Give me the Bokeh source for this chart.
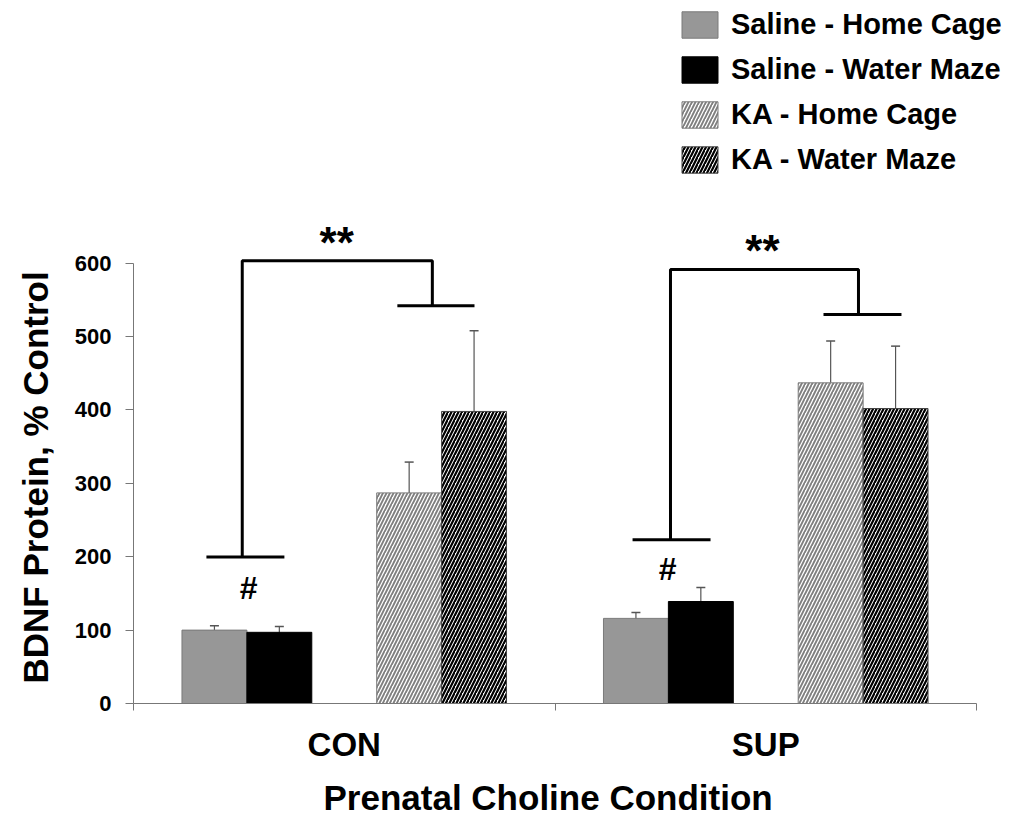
from bokeh.plotting import figure
from bokeh.models import (Range1d, FixedTicker, Legend, LegendItem, ColumnDataSource,
                          Whisker, TeeHead, Title)
from bokeh.core.properties import value
from bokeh.embed import file_html
from bokeh.resources import INLINE

# ---------------- data ----------------
conditions = ["CON", "SUP"]
series_names = ["Saline - Home Cage", "Saline - Water Maze", "KA - Home Cage", "KA - Water Maze"]
saline_home_cage = [100, 116]
saline_home_cage_sem = [6, 8]
saline_water_maze = [97, 139]
saline_water_maze_sem = [8, 19]
ka_home_cage = [287, 437]
ka_home_cage_sem = [42, 57]
ka_water_maze = [398, 402]
ka_water_maze_sem = [110, 85]
y_ticks = [0, 100, 200, 300, 400, 500, 600]

# significance annotations (data coordinates)
hash_x = [0.273, 1.267]
hash_y = [157, 183]
star_x = [0.482, 1.492]
star_y = [628, 618]
bracket_xs = [[0.258, 0.258, 0.709, 0.709], [1.274, 1.274, 1.720, 1.720]]
bracket_ys = [[199.6, 603.5, 603.5, 542], [223, 591.3, 591.3, 530]]
cap_x0 = [0.173, 0.626, 1.184, 1.637]
cap_x1 = [0.358, 0.809, 1.369, 1.822]
cap_y = [199.6, 542, 223, 530]

values = [saline_home_cage, saline_water_maze, ka_home_cage, ka_water_maze]
errors = [saline_home_cage_sem, saline_water_maze_sem, ka_home_cage_sem, ka_water_maze_sem]

FONT = "Liberation Sans"
centers = [i + 0.5 for i in range(len(conditions))]
offsets = [-2, -1, 1, 2]
bar_w = 0.154

styles = [
    dict(fill_color="#979797", line_color="#7a7a7a"),
    dict(fill_color="#000000", line_color="#000000"),
    dict(fill_color="white", line_color="#7a7a7a", hatch_pattern="/",
         hatch_color="#7f7f7f", hatch_scale=7, hatch_weight=1.9),
    dict(fill_color="white", line_color="#444444", hatch_pattern="/",
         hatch_color="#000000", hatch_scale=7, hatch_weight=2.2),
]

px_per_unit = 0.7338       # vertical pixels per data unit
px_per_cat = 421.5         # horizontal pixels per category
frame_h = 695
frame_w = 875
p = figure(frame_width=frame_w, frame_height=frame_h,
           min_border_left=133, min_border_right=0, min_border_top=8, min_border_bottom=109,
           x_range=Range1d(0, frame_w / px_per_cat), y_range=Range1d(0, frame_h / px_per_unit),
           output_backend="svg", toolbar_location=None, tools="")
p.outline_line_color = None
p.xgrid.visible = False
p.ygrid.visible = False
p.background_fill_color = "white"
p.border_fill_color = "white"

renderers = []
wx, wup, wlo = [], [], []
for k, (vals, errs, st) in enumerate(zip(values, errors, styles)):
    xs = [c + offsets[k] * bar_w for c in centers]
    src = ColumnDataSource(dict(x=xs, top=vals))
    r = p.vbar(x="x", top="top", width=bar_w, bottom=0, source=src, line_width=1, **st)
    renderers.append(r)
    for x, v, e in zip(xs, vals, errs):
        wx.append(x)
        wup.append(v + e)
        wlo.append(v - e)

wsrc = ColumnDataSource(dict(x=wx, upper=wup, lower=wlo))
whisk = Whisker(source=wsrc, base="x", upper="upper", lower="lower",
                line_color="#555555", line_width=1.2,
                upper_head=TeeHead(size=9, line_color="#555555", line_width=1.5),
                lower_head=TeeHead(size=9, line_color="#555555", line_width=1.5))
p.add_layout(whisk)

# significance brackets
p.multi_line(xs=bracket_xs, ys=bracket_ys, line_color="black", line_width=3)
p.segment(x0=cap_x0, x1=cap_x1, y0=cap_y, y1=cap_y, line_color="black", line_width=3)
p.text(x=star_x, y=star_y, text=["**", "**"], text_font=value(FONT), text_font_style="bold",
       text_font_size="44px", text_align="center", text_baseline="alphabetic", text_color="black")
p.text(x=hash_x, y=hash_y, text=["#", "#"], text_font=value(FONT), text_font_style="bold",
       text_font_size="32px", text_align="center", text_baseline="middle", text_color="black")

# axes
yax = p.yaxis[0]
yax.ticker = FixedTicker(ticks=y_ticks)
yax.bounds = (0, 600)
yax.axis_line_color = "#777777"
yax.major_tick_line_color = "#777777"
yax.major_tick_out = 8
yax.major_tick_in = 0
yax.minor_tick_line_color = None
yax.major_label_text_font = FONT
yax.major_label_text_font_style = "bold"
yax.major_label_text_font_size = "22px"
yax.major_label_text_color = "black"
yax.major_label_standoff = 14

# y axis title, placed along the 0-600 span of the axis
ytitle = Title(text="BDNF Protein, % Control", align="left", offset=20,
               vertical_align="top",
               text_font=FONT, text_font_style="bold", text_font_size="35px",
               text_color="black", standoff=30)
p.add_layout(ytitle, "left")

xax = p.xaxis[0]
xax.ticker = FixedTicker(ticks=centers, minor_ticks=[0, 1, 2])
xax.bounds = (0, len(conditions))
xax.major_label_overrides = {c: name for c, name in zip(centers, conditions)}
xax.axis_line_color = "#777777"
xax.major_tick_line_color = None
xax.major_tick_out = 0
xax.major_tick_in = 0
xax.minor_tick_line_color = "#777777"
xax.minor_tick_out = 7
xax.minor_tick_in = 0
xax.major_label_text_font = FONT
xax.major_label_text_font_style = "bold"
xax.major_label_text_font_size = "33px"
xax.major_label_text_color = "black"
xax.major_label_standoff = 15

# x axis title, centred under the two categories
xtitle = Title(text="Prenatal Choline Condition", align="left", offset=190,
               text_font=FONT, text_font_style="bold", text_font_size="35px",
               text_color="black", standoff=20)
p.add_layout(xtitle, "below")

legend = Legend(items=[LegendItem(label=n, renderers=[r]) for n, r in zip(series_names, renderers)],
                location=(544, 527), orientation="vertical",
                glyph_width=45, glyph_height=33, spacing=12, padding=0, margin=0,
                label_height=33, label_standoff=9,
                border_line_color=None, background_fill_alpha=0,
                label_text_font=FONT, label_text_font_style="bold",
                label_text_font_size="29px", label_text_color="black")
p.add_layout(legend)

open("out.html", "w").write(file_html(p, INLINE))
